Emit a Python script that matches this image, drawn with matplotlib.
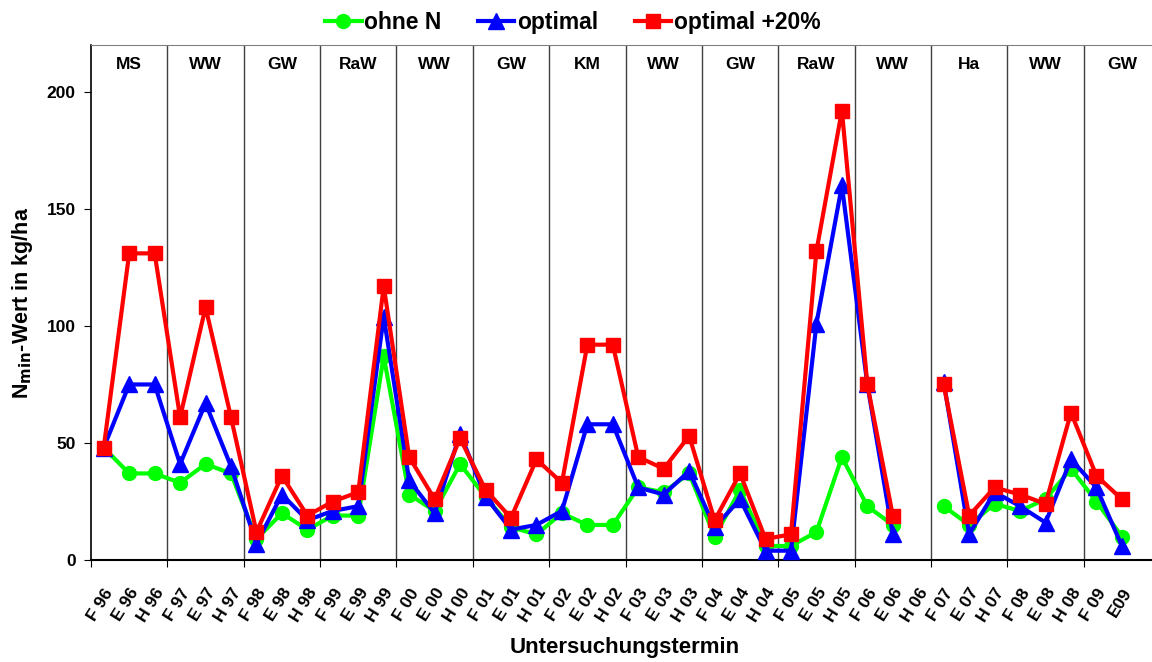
import numpy as np
import matplotlib.pyplot as plt
from matplotlib.lines import Line2D

plt.rcParams['font.family'] = ['Liberation Sans', 'DejaVu Sans']
plt.rcParams['font.weight'] = 'bold'

# Untersuchungstermine (letzte Kategorie ohne Beschriftung)
termine = ['F 96', 'E 96', 'H 96', 'F 97', 'E 97', 'H 97', 'F 98', 'E 98', 'H 98',
           'F 99', 'E 99', 'H 99', 'F 00', 'E 00', 'H 00', 'F 01', 'E 01', 'H 01',
           'F 02', 'E 02', 'H 02', 'F 03', 'E 03', 'H 03', 'F 04', 'E 04', 'H 04',
           'F 05', 'E 05', 'H 05', 'F 06', 'E 06', 'H 06', 'F 07', 'E 07', 'H 07',
           'F 08', 'E 08', 'H 08', 'F 09', 'E09', '']

kulturen = ['MS', 'WW', 'GW', 'RaW', 'WW', 'GW', 'KM', 'WW', 'GW', 'RaW', 'WW', 'Ha', 'WW', 'GW']

nan = np.nan
ohne_n = [48, 37, 37, 33, 41, 37, 9, 20, 13, 19, 19, 87, 28, 21, 41, 27, 14, 11,
          20, 15, 15, 31, 29, 37, 10, 30, 6, 6, 12, 44, 23, 15, nan, 23, 15, 24,
          21, 26, 39, 25, 10, nan]
optimal = [48, 75, 75, 41, 67, 40, 7, 28, 17, 21, 23, 104, 34, 20, 54, 27, 13, 15,
           21, 58, 58, 31, 28, 38, 14, 26, 4, 4, 101, 160, 75, 11, nan, 76, 11, 29,
           23, 16, 43, 31, 6, nan]
optimal_20 = [48, 131, 131, 61, 108, 61, 12, 36, 19, 25, 29, 117, 44, 26, 52, 30, 18, 43,
              33, 92, 92, 44, 39, 53, 17, 37, 9, 11, 132, 192, 75, 19, nan, 75, 19, 31,
              28, 24, 63, 36, 26, nan]

x = np.arange(len(termine)) + 0.5

fig = plt.figure(figsize=(11.52, 6.62), dpi=100)
ax = fig.add_axes([0.079, 0.154, 0.928, 0.778])

# Trennlinien zwischen den Kulturen
for b in range(3, len(termine), 3):
    ax.axvline(b, color='#404040', linewidth=1, zorder=1)

ax.plot(x, ohne_n, color='#00FF00', marker='o', markersize=10, linewidth=3, zorder=3)
ax.plot(x, optimal, color='#0000FF', marker='^', markersize=11, linewidth=3, zorder=4)
ax.plot(x, optimal_20, color='#FF0000', marker='s', markersize=10, linewidth=3, zorder=5)

for i, k in enumerate(kulturen):
    ax.text(3 * i + 1.5, 211.5, k, ha='center', va='center', fontsize=12.5, fontweight='bold')

ax.set_xlim(0, len(termine))
ax.set_ylim(0, 220)
ax.set_yticks([0, 50, 100, 150, 200])
ax.set_xticks(np.arange(0, len(termine) + 1, 3))
ax.set_xticklabels([])
ax.tick_params(axis='y', direction='out', length=5, labelsize=12.5, pad=6)
ax.tick_params(axis='x', direction='out', length=5)
for lbl in ax.get_yticklabels():
    lbl.set_fontweight('bold')

for xi, t in zip(x, termine):
    ax.text(xi, -11, t, rotation=58, ha='right', va='top', rotation_mode='anchor',
            fontsize=12.5, fontweight='bold')

ax.spines['right'].set_visible(False)
ax.spines['top'].set_color('#808080')
ax.spines['left'].set_linewidth(1.2)
ax.spines['bottom'].set_linewidth(1.5)

ax.set_ylabel('N$_{\\mathbf{min}}$-Wert in kg/ha', fontsize=15.5, fontweight='bold', labelpad=8)
fig.text(0.542, 0.022, 'Untersuchungstermin', ha='center', va='center', fontsize=16, fontweight='bold')

handles = [Line2D([0], [0], color='#00FF00', marker='o', markersize=10, linewidth=3, label='ohne N'),
           Line2D([0], [0], color='#0000FF', marker='^', markersize=11, linewidth=3, label='optimal'),
           Line2D([0], [0], color='#FF0000', marker='s', markersize=10, linewidth=3, label='optimal +20%')]
fig.legend(handles=handles, loc='upper center', bbox_to_anchor=(0.497, 1.015), ncol=3, frameon=False,
           prop={'size': 16.5, 'weight': 'bold'}, handlelength=1.6, handletextpad=0.1, columnspacing=1.6)

plt.savefig('out.png', dpi=100)
plt.close()
